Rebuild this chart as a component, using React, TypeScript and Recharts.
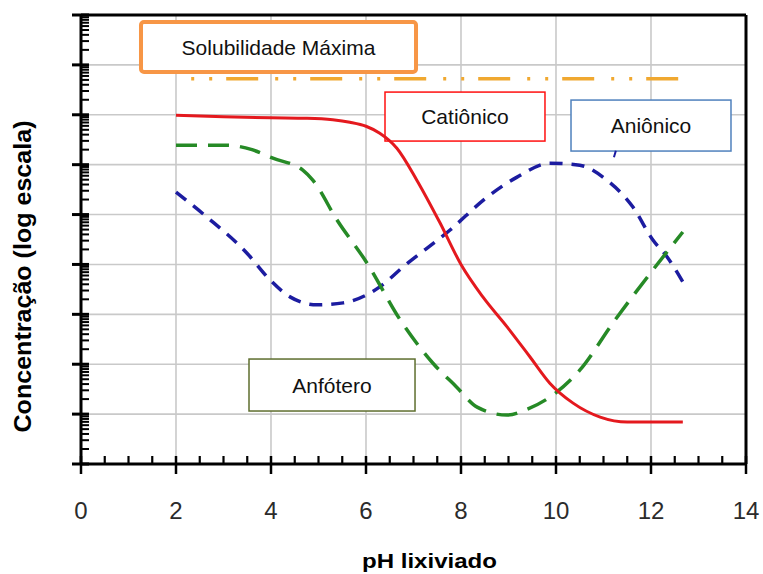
import React from 'react';
import {
  LineChart,
  Line,
  XAxis,
  YAxis,
  CartesianGrid,
  ReferenceLine,
  ReferenceArea,
} from 'recharts';

const FONT = '"Liberation Sans", Arial, Helvetica, sans-serif';

// pH axis
const PH_DOMAIN: [number, number] = [0, 14];
const phMajorTicks = [0, 2, 4, 6, 8, 10, 12, 14];
const phMinorStep = 0.5;

// Concentration axis, in decades (log10 scale)
const LOG_DOMAIN: [number, number] = [0, 9];
const decades = [0, 1, 2, 3, 4, 5, 6, 7, 8, 9];

// Catiônico
const cationicPH = [2, 3, 4, 4.76, 5.3, 5.66, 6.0, 6.29, 6.65, 7.07, 7.56, 8.0, 8.46, 8.97, 9.45, 9.87, 10.36, 10.93, 11.5, 12.0, 12.67];
const cationicLog = [6.99, 6.96, 6.94, 6.93, 6.9, 6.85, 6.77, 6.63, 6.33, 5.69, 4.83, 4.0, 3.35, 2.75, 2.15, 1.62, 1.22, 0.94, 0.84, 0.84, 0.84];

// Anfótero
const amphotericPH = [2, 3.07, 3.6, 4.04, 4.67, 4.88, 5.39, 6.02, 6.72, 7.41, 7.9, 8.34, 8.97, 9.4, 9.87, 10.5, 11.2, 12.04, 12.67];
const amphotericLog = [6.39, 6.39, 6.3, 6.13, 5.89, 5.69, 4.89, 4.03, 2.89, 2.02, 1.55, 1.14, 0.98, 1.1, 1.34, 1.88, 2.83, 3.89, 4.65];

// Aniônico
const anionicPH = [2, 2.65, 3.49, 3.98, 4.4, 4.97, 5.52, 6.29, 6.78, 7.77, 8.55, 9.18, 9.87, 10.5, 11.07, 11.62, 12.04, 12.34, 12.67];
const anionicLog = [5.45, 4.95, 4.23, 3.69, 3.35, 3.19, 3.23, 3.55, 3.95, 4.69, 5.35, 5.75, 6.03, 5.99, 5.69, 5.15, 4.49, 4.15, 3.65];

// Solubilidade máxima
const maxSolubilityPH = [2.32, 12.67];
const maxSolubilityLog = [7.72, 7.72];

const toRows = (xs: number[], ys: number[]) => xs.map((ph, i) => ({ ph, v: ys[i] }));

const cationic = toRows(cationicPH, cationicLog);
const amphoteric = toRows(amphotericPH, amphotericLog);
const anionic = toRows(anionicPH, anionicLog);
const maxSolubility = toRows(maxSolubilityPH, maxSolubilityLog);

const phMinorTicks: number[] = [];
for (let p = PH_DOMAIN[0]; p <= PH_DOMAIN[1] + 1e-9; p += phMinorStep) {
  if (!phMajorTicks.some((m) => Math.abs(m - p) < 1e-6)) phMinorTicks.push(p);
}

const logMinorTicks: number[] = [];
decades.slice(0, -1).forEach((d) => {
  for (let k = 2; k <= 9; k++) logMinorTicks.push(d + Math.log10(k));
});

// Outer half of the major pH ticks, with labels
const XTick = (props: any) => {
  const { x, y, payload } = props;
  return (
    <g>
      <line x1={x} x2={x} y1={y} y2={y + 10} stroke="#000" strokeWidth={2.5} />
      <text x={x} y={y + 55} textAnchor="middle" fontFamily={FONT} fontSize={24} fill="#2b2b2b">
        {payload.value}
      </text>
    </g>
  );
};

// Outer half of the decade ticks (no labels on the log axis)
const YTick = (props: any) => {
  const { x, y } = props;
  return <line x1={x - 9} x2={x} y1={y} y2={y} stroke="#000" strokeWidth={3} />;
};

// Frame and inward-pointing tick marks, drawn over the plot area
const FrameTicks = (p: any) => {
  const { x, y, width, height } = p;
  const px = (ph: number) => x + ((ph - PH_DOMAIN[0]) / (PH_DOMAIN[1] - PH_DOMAIN[0])) * width;
  const py = (v: number) => y + height - ((v - LOG_DOMAIN[0]) / (LOG_DOMAIN[1] - LOG_DOMAIN[0])) * height;
  const bottom = y + height;
  return (
    <g>
      {phMajorTicks.map((ph) => (
        <line key={`xM${ph}`} x1={px(ph)} x2={px(ph)} y1={bottom} y2={bottom - 8} stroke="#000" strokeWidth={2.5} />
      ))}
      {phMinorTicks.map((ph) => (
        <line key={`xm${ph}`} x1={px(ph)} x2={px(ph)} y1={bottom} y2={bottom - 8} stroke="#000" strokeWidth={2.2} />
      ))}
      {decades.map((d) => (
        <line key={`yM${d}`} x1={x} x2={x + 8} y1={py(d)} y2={py(d)} stroke="#000" strokeWidth={3} />
      ))}
      {logMinorTicks.map((v) => (
        <line key={`ym${v}`} x1={x} x2={x + 8} y1={py(v)} y2={py(v)} stroke="#000" strokeWidth={2} />
      ))}
      <line x1={x} x2={x + width} y1={y} y2={y} stroke="#000" strokeWidth={3} />
      <line x1={x + width} x2={x + width} y1={y} y2={bottom} stroke="#000" strokeWidth={3} />
    </g>
  );
};

const XTitle = (props: any) => {
  const vb = props.viewBox || {};
  const cx = vb.x + vb.width / 2 + 16;
  return (
    <text
      x={cx}
      y={vb.y + 104}
      textAnchor="middle"
      fontFamily={FONT}
      fontWeight="bold"
      fontSize={21}
      textLength={135}
      lengthAdjust="spacingAndGlyphs"
      fill="#000"
    >
      pH lixiviado
    </text>
  );
};

const YTitle = (props: any) => {
  const vb = props.viewBox || {};
  const cx = vb.x + 31;
  const cy = vb.y + vb.height / 2 + 37;
  return (
    <text
      x={cx}
      y={cy}
      transform={`rotate(-90 ${cx} ${cy})`}
      textAnchor="middle"
      fontFamily={FONT}
      fontWeight="bold"
      fontSize={24}
      textLength={312}
      lengthAdjust="spacingAndGlyphs"
      fill="#000"
    >
      Concentração (log escala)
    </text>
  );
};

const boxShape =
  (label: string, stroke: string, strokeWidth: number, radius: number, fontSize: number) =>
  (p: any) =>
    (
      <g>
        <rect
          x={p.x}
          y={p.y}
          width={p.width}
          height={p.height}
          rx={radius}
          ry={radius}
          fill="#fff"
          stroke={stroke}
          strokeWidth={strokeWidth}
        />
        <text
          x={p.x + p.width / 2}
          y={p.y + p.height / 2}
          textAnchor="middle"
          dominantBaseline="central"
          fontFamily={FONT}
          fontSize={fontSize}
          fill="#111"
        >
          {label}
        </text>
      </g>
    );

export default function App() {
  return (
    <div style={{ position: 'absolute', left: 0, top: 0, width: 763, height: 574, background: '#fff' }}>
      <LineChart width={763} height={574} margin={{ top: 15, right: 17, bottom: 0, left: 0 }}>
        <CartesianGrid
          stroke="#c9c9c9"
          strokeWidth={1.6}
          horizontalValues={[1, 2, 3, 4, 5, 6, 7, 8]}
          verticalValues={[2, 4, 6, 8, 10, 12]}
        />
        <XAxis
          dataKey="ph"
          type="number"
          domain={PH_DOMAIN}
          ticks={phMajorTicks}
          interval={0}
          height={110}
          tickSize={0}
          tickMargin={0}
          tickLine={false}
          axisLine={{ stroke: '#000', strokeWidth: 3 }}
          tick={<XTick />}
          label={<XTitle />}
        />
        <YAxis
          type="number"
          domain={LOG_DOMAIN}
          ticks={decades}
          interval={0}
          width={81}
          tickSize={0}
          tickMargin={0}
          tickLine={false}
          axisLine={{ stroke: '#000', strokeWidth: 3 }}
          tick={<YTick />}
          label={<YTitle />}
        />

        <Line
          data={maxSolubility}
          dataKey="v"
          type="linear"
          stroke="#F0A830"
          strokeWidth={3.5}
          strokeDasharray="3 15 3 14 32 17"
          dot={false}
          activeDot={false}
          isAnimationActive={false}
        />
        <Line
          data={anionic}
          dataKey="v"
          type="monotone"
          stroke="#1C1CA0"
          strokeWidth={3.5}
          strokeDasharray="13 9"
          dot={false}
          activeDot={false}
          isAnimationActive={false}
        />
        <Line
          data={amphoteric}
          dataKey="v"
          type="monotone"
          stroke="#268A26"
          strokeWidth={3.5}
          strokeDasharray="21 11"
          dot={false}
          activeDot={false}
          isAnimationActive={false}
        />
        <Line
          data={cationic}
          dataKey="v"
          type="monotone"
          stroke="#E4191E"
          strokeWidth={3}
          dot={false}
          activeDot={false}
          isAnimationActive={false}
        />

        <ReferenceLine
          segment={[
            { x: 11.26, y: 6.28 },
            { x: 11.22, y: 6.15 },
          ]}
          stroke="#1C1CA0"
          strokeWidth={2}
        />

        <ReferenceArea
          x1={PH_DOMAIN[0]}
          x2={PH_DOMAIN[1]}
          y1={LOG_DOMAIN[0]}
          y2={LOG_DOMAIN[1]}
          ifOverflow="visible"
          fill="none"
          shape={FrameTicks}
        />

        <ReferenceArea
          x1={1.263}
          x2={7.053}
          y1={7.856}
          y2={8.858}
          shape={boxShape('Solubilidade Máxima', '#F79646', 4, 3, 21)}
        />
        <ReferenceArea
          x1={6.4}
          x2={9.768}
          y1={6.473}
          y2={7.455}
          shape={boxShape('Catiônico', '#FF1010', 1.5, 0, 21)}
        />
        <ReferenceArea
          x1={10.316}
          x2={13.684}
          y1={6.273}
          y2={7.295}
          shape={boxShape('Aniônico', '#4F81BD', 1.5, 0, 21)}
        />
        <ReferenceArea
          x1={3.537}
          x2={7.032}
          y1={1.062}
          y2={2.104}
          shape={boxShape('Anfótero', '#5E6E2E', 1.5, 0, 21)}
        />
      </LineChart>
    </div>
  );
}
